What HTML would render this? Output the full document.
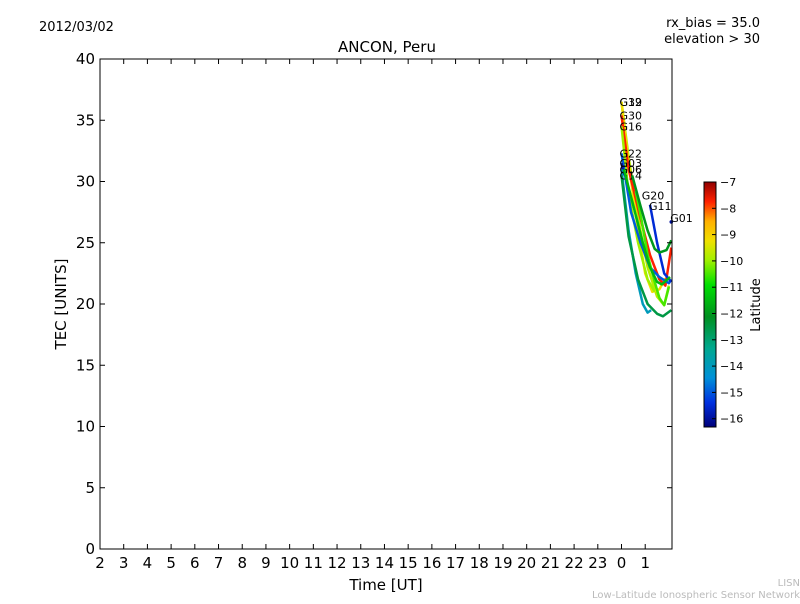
<!DOCTYPE html>
<html><head><meta charset="utf-8"><style>
body{margin:0;background:#fff;font-family:"DejaVu Sans","Liberation Sans",sans-serif}
svg text{font-family:"DejaVu Sans","Liberation Sans",sans-serif}
</style></head><body>
<svg id="c" width="800" height="600" xmlns="http://www.w3.org/2000/svg">
<defs><linearGradient id="cb" x1="0" y1="1" x2="0" y2="0">
<stop offset="0" stop-color="#00007a"/><stop offset="0.1" stop-color="#0030e0"/><stop offset="0.2" stop-color="#0090d8"/>
<stop offset="0.32" stop-color="#00a890"/><stop offset="0.45" stop-color="#009020"/><stop offset="0.58" stop-color="#00e000"/>
<stop offset="0.68" stop-color="#a0f000"/><stop offset="0.76" stop-color="#f0e000"/><stop offset="0.84" stop-color="#ffb000"/>
<stop offset="0.92" stop-color="#ff2000"/><stop offset="1" stop-color="#900000"/></linearGradient></defs>
<text x="39" y="31" font-size="13">2012/03/02</text>
<text x="760" y="27" font-size="13" text-anchor="end">rx_bias = 35.0</text>
<text x="760" y="43" font-size="13" text-anchor="end">elevation &gt; 30</text>
<text x="387" y="52" font-size="15" text-anchor="middle">ANCON, Peru</text>
<text x="386" y="590" font-size="15" text-anchor="middle">Time [UT]</text>
<text transform="translate(66,304) rotate(-90)" font-size="15" text-anchor="middle">TEC [UNITS]</text>
<g id="plot"></g>
<rect x="100" y="59" width="572" height="490" fill="none" stroke="#000" stroke-width="1"/>
<rect x="704" y="182" width="12" height="245" fill="url(#cb)" stroke="#000" stroke-width="1"/>
<text transform="translate(760,305) rotate(-90)" font-size="13" text-anchor="middle">Latitude</text>
<text x="800" y="586" font-size="10" fill="#bbb" text-anchor="end">LISN</text>
<text x="800" y="598" font-size="10" fill="#bbb" text-anchor="end">Low-Latitude Ionospheric Sensor Network</text>
</svg>
<script>
const xTickValues=[2,3,4,5,6,7,8,9,10,11,12,13,14,15,16,17,18,19,20,21,22,23,24,25];
const xTickLabels=["2","3","4","5","6","7","8","9","10","11","12","13","14","15","16","17","18","19","20","21","22","23","0","1"];
const yTickValues=[0,5,10,15,20,25,30,35,40];
const cbTicks=[-7,-8,-9,-10,-11,-12,-13,-14,-15,-16];
const satNames=["G19","G32","G30","G16","G22","G03","G06","G14","G20","G11","G01","G12","G13"];
const satLats=[-9.8,-9.2,-7.8,-10,-15,-16,-14,-12.5,-10.5,-15.5,-16,-12,-11.5];
const satTimes=[
[24.0,24.3,24.7,25.1,25.5,25.8,26.0],
[24.0,24.3,24.7,25.0,25.3,25.6,25.85],
[24.0,24.3,24.8,25.2,25.6,25.85,26.1],
[24.0,24.3,24.7,25.1,25.4],
[24.0,24.4,24.8,25.2,25.6,26.0,26.1],
[24.0,24.1],
[24.0,24.3,24.6,24.9,25.1,25.25],
[24.0,24.3,24.7,25.1,25.5,25.75,26.1],
[24.6,24.85,25.1,25.4,25.6,25.8,26.0],
[25.2,25.5,25.8,26.1],
[26.1],
[24.45,24.8,25.1,25.4,25.6,25.9,26.1],
[24.1,24.5,24.9,25.2,25.5,25.7,26.05]];
const satTec=[
[36.5,32,27,23,20.6,19.9,21.5],
[36.5,31.5,26,22.5,21,21.2,22.1],
[35.4,31,27,24,22,21.5,24.6],
[34.5,29,25,22,21],
[32.3,27.5,25,23,22.2,21.7,22],
[31.5,30.5],
[31,26,22.5,20,19.3,19.5],
[30.5,25.5,22,20,19.2,19,19.5],
[29.2,26.8,24,21.8,20.5,19.9,21.4],
[28.1,25,22.5,21.8],
[26.7],
[30.5,28,26,24.5,24.2,24.4,25.2],
[31,28,25,23,21.8,21.6,22.2]];
const labelDx=[-2,-2,-2,-2,-2,-2,-2,-2,6,-1,-1,0,0];
const labelDy=[4,4,4,4,4,4,4,4,8,5,0,0,0];
const X0=100,X1=672,Y0=549,Y1=59,TMIN=2,TMAX=26.13,VMIN=0,VMAX=40;
const xs=t=>X0+(t-TMIN)/(TMAX-TMIN)*(X1-X0);
const ys=v=>Y0-(v-VMIN)/(VMAX-VMIN)*(Y0-Y1);
const cbY=l=>182+(-7-l)*26.3;
const NS="http://www.w3.org/2000/svg";
const svg=document.getElementById('c'),plot=document.getElementById('plot');
function mk(tag,at,parent){const e=document.createElementNS(NS,tag);for(const k in at)e.setAttribute(k,at[k]);(parent||svg).appendChild(e);return e;}
function latColor(l){
 const stops=[[-16.3,[0,0,122]],[-15.4,[0,48,224]],[-14.5,[0,144,216]],[-13.3,[0,168,144]],[-12.1,[0,144,32]],[-10.9,[0,224,0]],[-10,[160,240,0]],[-9.2,[240,224,0]],[-8.5,[255,176,0]],[-7.8,[255,32,0]],[-7,[144,0,0]]];
 for(let i=0;i<stops.length-1;i++){const a=stops[i],b=stops[i+1];if(l<=b[0]||i==stops.length-2){const f=Math.max(0,Math.min(1,(l-a[0])/(b[0]-a[0])));return 'rgb('+a[1].map((c,j)=>Math.round(c+(b[1][j]-c)*f)).join(',')+')';}}
}
xTickValues.forEach((v,i)=>{
 const x=xs(v);
 const t=mk('line',{x1:x,x2:x,y1:Y0,y2:Y0-5,stroke:'#000'});
 
 
 mk('line',{x1:x,x2:x,y1:Y1,y2:Y1+5,stroke:'#000'});
 const l=mk('text',{x:x,y:Y0+19,'font-size':15,'text-anchor':'middle'});l.textContent=xTickLabels[i];
 
 
});
yTickValues.forEach(v=>{
 const y=ys(v);
 const t=mk('line',{x1:X0,x2:X0+5,y1:y,y2:y,stroke:'#000'});
 
 
 mk('line',{x1:X1,x2:X1-5,y1:y,y2:y,stroke:'#000'});
 const l=mk('text',{x:X0-5,y:y+5,'font-size':15,'text-anchor':'end'});l.textContent=v;
 
 
});
satNames.forEach((n,i)=>{
 const pts=satTimes[i].map((t,j)=>xs(t).toFixed(1)+','+ys(satTec[i][j]).toFixed(1)).join(' ');
 const col=latColor(satLats[i]);
 const p=satTimes[i].length>1?mk('polyline',{points:pts,fill:'none',stroke:col,'stroke-width':2.5,'stroke-linejoin':'round'},plot):mk('circle',{cx:xs(satTimes[i][0]),cy:ys(satTec[i][0]),r:1.8,fill:col},plot);
 
 
 if(n==='G12'||n==='G13')return;
 const lb=mk('text',{x:xs(satTimes[i][0])+labelDx[i],y:ys(satTec[i][0])+labelDy[i],'font-size':11},plot);lb.textContent=n;
 
 
});
cbTicks.forEach(v=>{
 const y=cbY(v);
 const t=mk('line',{x1:716,x2:712,y1:y,y2:y,stroke:'#000'});
 
 
 const l=mk('text',{x:720,y:y+4,'font-size':11});l.textContent='\u2212'+(-v);
 
 
});
</script>
</body></html>
